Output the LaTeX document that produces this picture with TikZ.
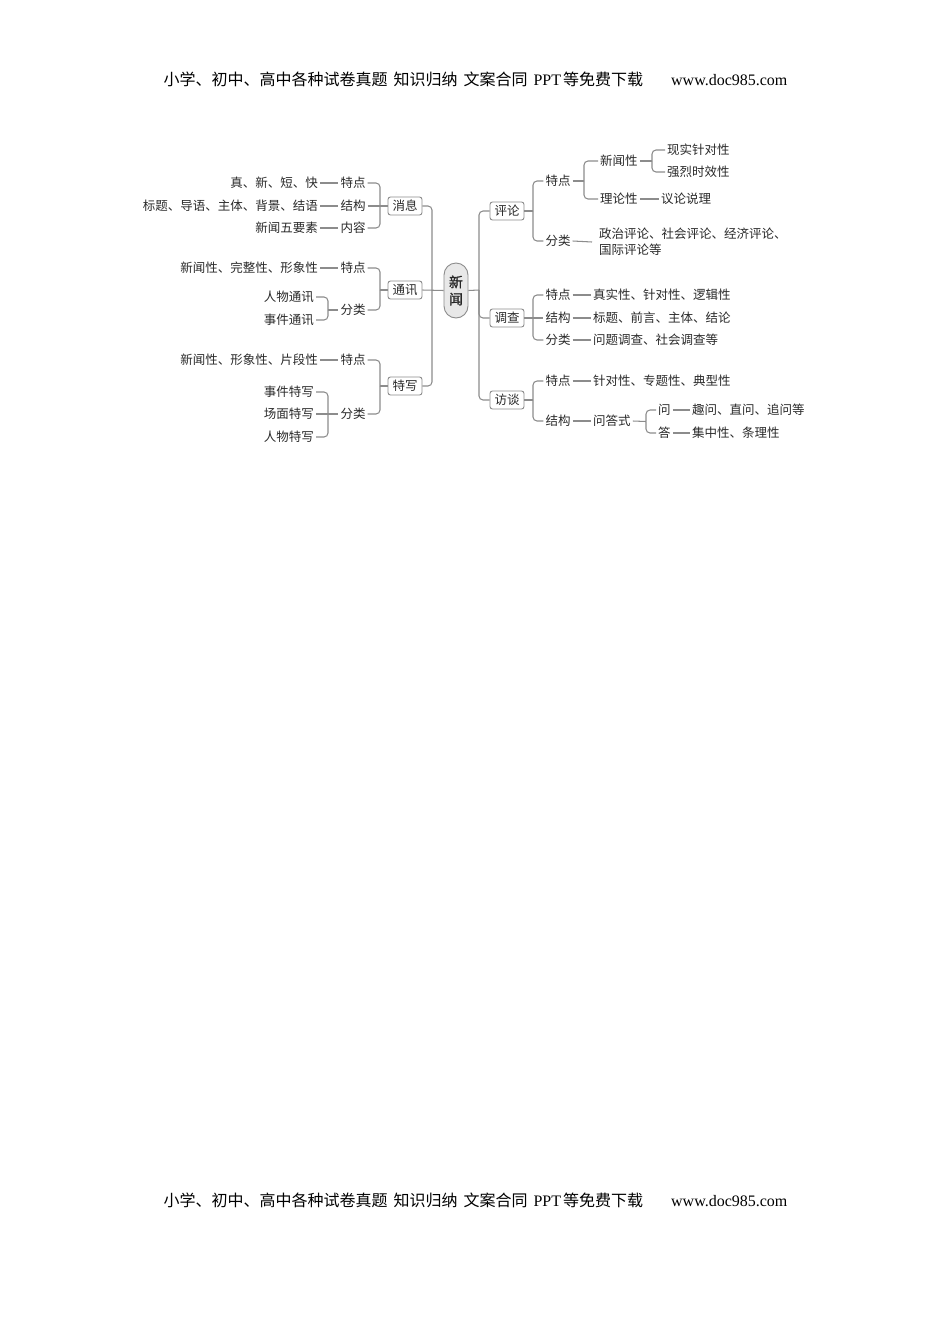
\documentclass[tikz,border=0pt]{standalone}
\usepackage{fontspec}
\setmainfont{Noto Sans CJK SC}
\newfontfamily\serifL{Liberation Serif}
\newfontfamily\cjkb{Noto Sans CJK SC}[FakeBold=1.2]
\definecolor{ln}{HTML}{8C8C8C}
\definecolor{tx}{HTML}{2A2A2A}
\tikzset{
 lbl/.style={inner sep=2pt, font=\fontsize{12.5}{16}\selectfont, text=tx},
 box/.style={lbl, draw=ln, fill=white, rounded corners=2.5pt, inner xsep=4.5pt, minimum height=18pt, line width=0.9pt},
 cn/.style={draw=ln, line width=1.05pt, rounded corners=4pt},
 hdr/.style={inner sep=0pt, font=\fontsize{16}{19}\selectfont, text=black},
}
\newcommand{\hdrtext}{小学、初中、高中各种试卷真题\hspace{6pt}知识归纳\hspace{6pt}文案合同\hspace{6pt}{\serifL PPT}\hspace{2pt}等免费下载\hspace{28pt}{\serifL www.doc985.com}}
\begin{document}
\begin{tikzpicture}[x=1pt,y=-1pt]
\useasboundingbox (0,0) rectangle (950,1344);
\fill[white] (0,0) rectangle (950,1344);

% header and footer
\node[hdr] (hd) at (475.5,79) {\hdrtext};
\node[hdr] (fo) at (475.5,1200) {\hdrtext};

% centre
\node[draw=ln, fill=black!9, rounded corners=12pt, minimum width=24pt, minimum height=55pt, inner sep=0pt, align=center, font=\cjkb\fontsize{14}{17}\selectfont, text=black!85, line width=0.9pt] (xw) at (456,290.5) {新\\闻};

% level 1
\node[box] (xx) at (405,206) {消息};
\node[box] (tx) at (405,290) {通讯};
\node[box] (te) at (405,386) {特写};
\node[box] (pl) at (507,211) {评论};
\node[box] (dc) at (507,318) {调查};
\node[box] (ft) at (507,400) {访谈};

\coordinate (lt) at (432,290);
\coordinate (rt) at (479,290);
\draw[cn] (lt) |- (xx.east);
\draw[cn] (lt) |- (te.east);
\draw[cn] (tx.east) -- (xw.west);
\draw[cn] (xw.east) -- (rt);
\draw[cn] (rt) |- (pl.west);
\draw[cn] (rt) |- (dc.west);
\draw[cn] (rt) |- (ft.west);

% 消息
\node[lbl] (xa) at (353,183) {特点};
\node[lbl] (xb) at (353,206) {结构};
\node[lbl] (xc) at (353,228) {内容};
\node[lbl,anchor=east] (xa1) at (320,183) {真、新、短、快};
\node[lbl,anchor=east] (xb1) at (320,206) {标题、导语、主体、背景、结语};
\node[lbl,anchor=east] (xc1) at (320,228) {新闻五要素};
\coordinate (bxx) at (380,206);
\draw[cn] (bxx) |- (xa.east);
\draw[cn] (bxx) |- (xc.east);
\draw[cn] (xb.east) -- (xx.west);
\draw[cn] (xa1.east) -- (xa.west);
\draw[cn] (xb1.east) -- (xb.west);
\draw[cn] (xc1.east) -- (xc.west);

% 通讯
\node[lbl] (ta) at (353,268) {特点};
\node[lbl] (tb) at (353,310) {分类};
\node[lbl,anchor=east] (ta1) at (320,268) {新闻性、完整性、形象性};
\node[lbl,anchor=east] (tb1) at (316,297) {人物通讯};
\node[lbl,anchor=east] (tb2) at (316,320) {事件通讯};
\coordinate (btx) at (380,290);
\coordinate (btb) at (328,310);
\draw[cn] (btx) |- (ta.east);
\draw[cn] (btx) |- (tb.east);
\draw[cn] (btx) -- (tx.west);
\draw[cn] (ta1.east) -- (ta.west);
\draw[cn] (btb) |- (tb1.east);
\draw[cn] (btb) |- (tb2.east);
\draw[cn] (btb) -- (tb.west);

% 特写
\node[lbl] (ea) at (353,360) {特点};
\node[lbl] (eb) at (353,414) {分类};
\node[lbl,anchor=east] (ea1) at (320,360) {新闻性、形象性、片段性};
\node[lbl,anchor=east] (eb1) at (316,392) {事件特写};
\node[lbl,anchor=east] (eb2) at (316,414) {场面特写};
\node[lbl,anchor=east] (eb3) at (316,437) {人物特写};
\coordinate (bte) at (380,386);
\coordinate (beb) at (328,414);
\draw[cn] (bte) |- (ea.east);
\draw[cn] (bte) |- (eb.east);
\draw[cn] (bte) -- (te.west);
\draw[cn] (ea1.east) -- (ea.west);
\draw[cn] (beb) |- (eb1.east);
\draw[cn] (beb) |- (eb3.east);
\draw[cn] (eb2.east) -- (eb.west);

% 评论
\node[lbl] (pa) at (558,181) {特点};
\node[lbl] (pb) at (558,241) {分类};
\coordinate (bpl) at (533,211);
\draw[cn] (pl.east) -- (bpl);
\draw[cn] (bpl) |- (pa.west);
\draw[cn] (bpl) |- (pb.west);
\node[lbl,anchor=west] (pa1) at (598,161) {新闻性};
\node[lbl,anchor=west] (pa2) at (598,199) {理论性};
\coordinate (bpa) at (584,181);
\draw[cn] (pa.east) -- (bpa);
\draw[cn] (bpa) |- (pa1.west);
\draw[cn] (bpa) |- (pa2.west);
\node[lbl,anchor=west] (pa11) at (665,150) {现实针对性};
\node[lbl,anchor=west] (pa12) at (665,172) {强烈时效性};
\coordinate (bpa1) at (652,161);
\draw[cn] (pa1.east) -- (bpa1);
\draw[cn] (bpa1) |- (pa11.west);
\draw[cn] (bpa1) |- (pa12.west);
\node[lbl,anchor=west] (pa21) at (659,199) {议论说理};
\draw[cn] (pa2.east) -- (pa21.west);
\node[lbl,anchor=west,align=left,inner xsep=7pt] (pb1) at (592,242) {政治评论、社会评论、经济评论、\\国际评论等};
\draw[cn] (pb.east) -- (pb1.west);

% 调查
\node[lbl] (da) at (558,295) {特点};
\node[lbl] (db) at (558,318) {结构};
\node[lbl] (dd) at (558,340) {分类};
\coordinate (bdc) at (533,318);
\draw[cn] (dc.east) -- (db.west);
\draw[cn] (bdc) |- (da.west);
\draw[cn] (bdc) |- (dd.west);
\node[lbl,anchor=west] (da1) at (591,295) {真实性、针对性、逻辑性};
\node[lbl,anchor=west] (db1) at (591,318) {标题、前言、主体、结论};
\node[lbl,anchor=west] (dd1) at (591,340) {问题调查、社会调查等};
\draw[cn] (da.east) -- (da1.west);
\draw[cn] (db.east) -- (db1.west);
\draw[cn] (dd.east) -- (dd1.west);

% 访谈
\node[lbl] (fa) at (558,381) {特点};
\node[lbl] (fb) at (558,421) {结构};
\coordinate (bft) at (533,400);
\draw[cn] (ft.east) -- (bft);
\draw[cn] (bft) |- (fa.west);
\draw[cn] (bft) |- (fb.west);
\node[lbl,anchor=west] (fa1) at (591,381) {针对性、专题性、典型性};
\draw[cn] (fa.east) -- (fa1.west);
\node[lbl,anchor=west] (fb1) at (591,421) {问答式};
\draw[cn] (fb.east) -- (fb1.west);
\node[lbl,anchor=west] (fq) at (656,410) {问};
\node[lbl,anchor=west] (fd) at (656,433) {答};
\coordinate (bfb) at (646,421.5);
\draw[cn] (fb1.east) -- (bfb);
\draw[cn] (bfb) |- (fq.west);
\draw[cn] (bfb) |- (fd.west);
\node[lbl,anchor=west] (fq1) at (690,410) {趣问、直问、追问等};
\node[lbl,anchor=west] (fd1) at (690,433) {集中性、条理性};
\draw[cn] (fq.east) -- (fq1.west);
\draw[cn] (fd.east) -- (fd1.west);
\end{tikzpicture}
\end{document}
